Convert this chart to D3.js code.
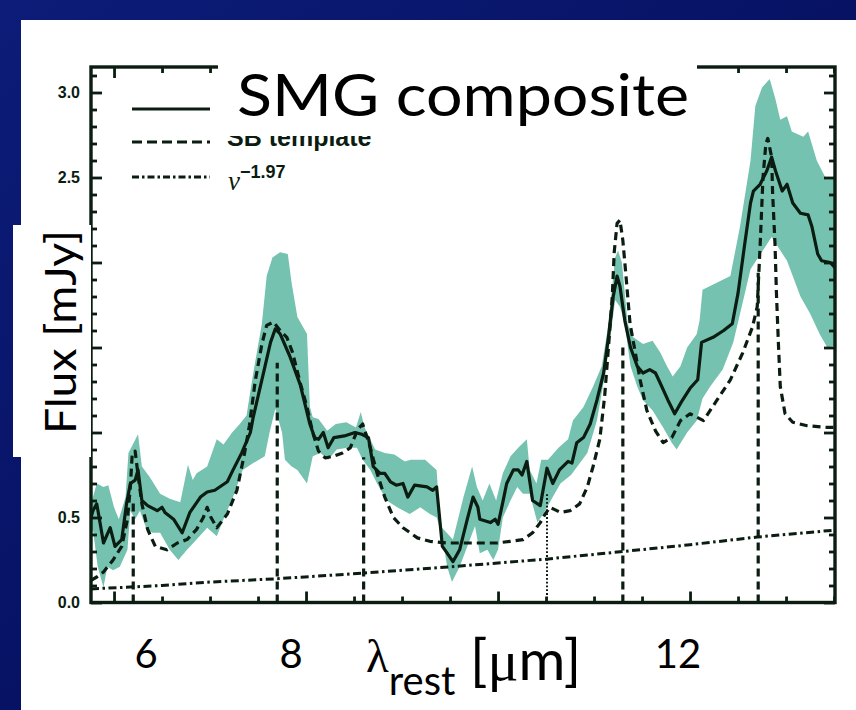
<!DOCTYPE html>
<html><head><meta charset="utf-8">
<script src="https://cdn.jsdelivr.net/npm/d3@7/dist/d3.min.js"></script>
<style>html,body{margin:0;padding:0;background:#020a58;overflow:hidden}</style>
</head><body><svg id="c" width="856" height="710"></svg>
<script>
// ---------------- data ----------------
const xDomain = [5.76, 13.51];
const yDomain = [0, 3.15];
const xMajorTicks = [6, 8, 10, 12];
const yMajorTicks = [0, 0.5, 1.0, 1.5, 2.0, 2.5, 3.0];
const xTickLabels = ["6", "8", "12"];
const legendLabels = ["SB template", "ν", "−1.97"];
const titleText = "SMG composite";
const yAxisTitle = "Flux [mJy]";

// composite (solid), [lambda_rest (um), flux (mJy)]
const composite = [
[5.76,0.50],[5.78,0.54],[5.82,0.58],[5.86,0.45],[5.89,0.35],[5.96,0.44],[6.01,0.33],[6.08,0.37],[6.13,0.58],[6.17,0.70],[6.22,0.72],[6.25,0.78],[6.29,0.60],[6.35,0.57],[6.45,0.54],[6.50,0.56],[6.53,0.53],[6.62,0.49],[6.71,0.41],[6.79,0.53],[6.90,0.62],[6.97,0.65],[7.05,0.66],[7.18,0.71],[7.24,0.78],[7.33,0.88],[7.42,1.00],[7.45,1.09],[7.54,1.31],[7.63,1.53],[7.68,1.61],[7.73,1.58],[7.83,1.45],[7.94,1.28],[8.04,1.05],[8.09,0.97],[8.13,0.96],[8.18,1.00],[8.23,0.91],[8.29,0.97],[8.40,0.98],[8.51,1.00],[8.58,0.99],[8.65,0.97],[8.70,0.80],[8.77,0.76],[8.82,0.76],[8.88,0.71],[8.94,0.69],[9.01,0.70],[9.06,0.62],[9.13,0.69],[9.26,0.68],[9.32,0.66],[9.36,0.68],[9.42,0.33],[9.47,0.29],[9.53,0.24],[9.60,0.31],[9.68,0.49],[9.74,0.62],[9.79,0.56],[9.81,0.49],[9.92,0.47],[9.97,0.49],[10.00,0.46],[10.05,0.59],[10.09,0.70],[10.16,0.78],[10.21,0.78],[10.25,0.75],[10.30,0.83],[10.36,0.60],[10.44,0.57],[10.51,0.79],[10.57,0.70],[10.64,0.78],[10.73,0.83],[10.77,0.82],[10.82,0.94],[10.89,0.97],[10.96,1.05],[11.03,1.19],[11.10,1.35],[11.15,1.56],[11.20,1.80],[11.24,1.92],[11.27,1.86],[11.32,1.66],[11.38,1.50],[11.45,1.39],[11.51,1.35],[11.58,1.37],[11.64,1.35],[11.69,1.29],[11.77,1.19],[11.84,1.11],[11.91,1.18],[12.00,1.26],[12.08,1.31],[12.12,1.53],[12.24,1.56],[12.35,1.60],[12.44,1.64],[12.50,1.82],[12.57,2.11],[12.63,2.35],[12.66,2.42],[12.73,2.46],[12.80,2.54],[12.85,2.62],[12.89,2.54],[12.96,2.42],[13.01,2.46],[13.07,2.35],[13.15,2.29],[13.23,2.28],[13.27,2.21],[13.33,2.05],[13.37,2.01],[13.46,2.00],[13.51,1.97]
];

// uncertainty band, upper and lower edges
const bandUpper = [
[5.76,0.58],[5.82,0.70],[5.89,0.68],[5.94,0.69],[6.00,0.56],[6.05,0.49],[6.12,0.62],[6.15,0.88],[6.25,0.99],[6.29,0.80],[6.37,0.74],[6.48,0.64],[6.58,0.61],[6.69,0.59],[6.77,0.81],[6.82,0.72],[6.86,0.76],[6.97,0.80],[7.07,0.96],[7.14,0.93],[7.23,1.00],[7.31,1.05],[7.38,1.10],[7.45,1.35],[7.54,1.64],[7.59,1.92],[7.65,2.03],[7.73,2.06],[7.81,2.05],[7.85,1.88],[7.91,1.68],[8.01,1.58],[8.04,1.15],[8.07,1.09],[8.13,1.08],[8.22,1.01],[8.31,1.05],[8.42,1.06],[8.52,1.03],[8.57,1.12],[8.61,1.03],[8.72,0.90],[8.82,0.88],[8.92,0.87],[9.03,0.83],[9.09,0.84],[9.24,0.84],[9.36,0.78],[9.40,0.45],[9.53,0.37],[9.64,0.62],[9.73,0.80],[9.78,0.68],[9.84,0.60],[9.91,0.70],[9.98,0.60],[10.05,0.76],[10.13,0.86],[10.21,0.91],[10.30,0.96],[10.33,0.78],[10.40,0.70],[10.45,0.84],[10.52,0.84],[10.63,0.91],[10.73,0.96],[10.78,1.07],[10.89,1.15],[10.99,1.27],[11.08,1.39],[11.14,1.60],[11.19,1.86],[11.22,2.03],[11.25,2.07],[11.29,2.00],[11.35,1.64],[11.41,1.56],[11.51,1.52],[11.61,1.54],[11.69,1.47],[11.76,1.39],[11.82,1.33],[11.90,1.39],[11.97,1.50],[12.07,1.58],[12.10,1.66],[12.13,1.84],[12.42,1.92],[12.52,2.21],[12.63,2.60],[12.68,2.92],[12.75,3.03],[12.83,3.08],[12.89,2.96],[12.94,2.84],[13.01,2.86],[13.06,2.77],[13.18,2.74],[13.23,2.77],[13.32,2.60],[13.41,2.50],[13.51,2.49]
];
const bandLower = [
[5.76,0.40],[5.78,0.43],[5.83,0.21],[5.89,0.09],[5.93,0.21],[5.99,0.19],[6.06,0.21],[6.14,0.31],[6.17,0.54],[6.22,0.49],[6.27,0.54],[6.34,0.43],[6.40,0.41],[6.48,0.41],[6.58,0.31],[6.67,0.25],[6.76,0.31],[6.86,0.37],[6.97,0.44],[7.07,0.39],[7.14,0.49],[7.24,0.62],[7.34,0.78],[7.45,0.82],[7.57,0.86],[7.62,1.00],[7.68,1.14],[7.75,1.00],[7.78,0.84],[7.85,0.80],[7.91,0.78],[8.01,0.70],[8.07,0.86],[8.15,0.88],[8.23,0.84],[8.32,0.90],[8.43,0.91],[8.53,0.91],[8.59,0.84],[8.67,0.78],[8.74,0.70],[8.84,0.60],[8.95,0.56],[9.08,0.52],[9.19,0.56],[9.29,0.52],[9.36,0.50],[9.42,0.39],[9.47,0.21],[9.52,0.12],[9.60,0.21],[9.68,0.33],[9.76,0.45],[9.81,0.29],[9.89,0.31],[9.95,0.25],[10.00,0.31],[10.05,0.50],[10.13,0.60],[10.20,0.68],[10.26,0.64],[10.33,0.64],[10.41,0.47],[10.47,0.52],[10.57,0.62],[10.65,0.70],[10.76,0.75],[10.93,0.88],[11.03,1.07],[11.11,1.33],[11.17,1.56],[11.22,1.78],[11.27,1.74],[11.32,1.64],[11.38,1.39],[11.45,1.27],[11.51,1.19],[11.61,1.13],[11.72,1.03],[11.81,0.94],[11.86,0.90],[11.97,1.00],[12.07,1.07],[12.13,1.20],[12.21,1.27],[12.34,1.37],[12.45,1.53],[12.63,1.96],[12.85,2.15],[13.01,2.01],[13.15,1.80],[13.25,1.70],[13.35,1.58],[13.43,1.50],[13.51,1.51]
];

// starburst template (dashed)
const template = [
[5.76,0.13],[5.82,0.15],[5.89,0.18],[5.99,0.25],[6.08,0.33],[6.14,0.49],[6.17,0.68],[6.19,0.88],[6.22,0.89],[6.25,0.75],[6.29,0.58],[6.35,0.43],[6.43,0.33],[6.55,0.31],[6.66,0.35],[6.76,0.37],[6.86,0.43],[6.93,0.50],[6.97,0.56],[7.01,0.50],[7.07,0.44],[7.18,0.52],[7.28,0.66],[7.36,0.88],[7.41,1.04],[7.47,1.30],[7.54,1.52],[7.59,1.63],[7.66,1.65],[7.73,1.60],[7.80,1.56],[7.86,1.47],[7.94,1.29],[8.01,1.15],[8.07,1.00],[8.13,0.89],[8.20,0.85],[8.28,0.86],[8.38,0.88],[8.46,0.91],[8.54,1.02],[8.59,1.05],[8.67,0.91],[8.74,0.76],[8.82,0.62],[8.91,0.50],[9.01,0.44],[9.16,0.38],[9.29,0.36],[9.47,0.35],[9.64,0.35],[9.81,0.35],[9.99,0.35],[10.13,0.36],[10.26,0.37],[10.36,0.41],[10.44,0.47],[10.49,0.52],[10.54,0.56],[10.65,0.53],[10.75,0.54],[10.85,0.58],[10.93,0.68],[10.99,0.80],[11.06,0.96],[11.11,1.21],[11.15,1.50],[11.19,1.80],[11.21,2.06],[11.24,2.23],[11.27,2.25],[11.30,2.13],[11.33,1.94],[11.375,1.64],[11.43,1.47],[11.48,1.31],[11.55,1.13],[11.64,1.01],[11.72,0.94],[11.81,0.97],[11.90,1.07],[12.00,1.11],[12.14,1.07],[12.28,1.19],[12.42,1.31],[12.55,1.47],[12.65,1.62],[12.70,1.74],[12.73,2.10],[12.76,2.50],[12.79,2.70],[12.81,2.73],[12.85,2.62],[12.86,2.41],[12.885,2.11],[12.90,1.82],[12.92,1.53],[12.94,1.27],[12.99,1.11],[13.07,1.06],[13.22,1.04],[13.43,1.03],[13.51,1.03]
];

// nu^-1.97 continuum (dash-dot)
const powerLaw = [
[5.76,0.08],[6.5,0.10],[7.0,0.12],[7.7,0.14],[8.6,0.173],[9.5,0.21],[10.5,0.255],[11.3,0.30],[12.0,0.34],[12.7,0.385],[13.51,0.426]
];

// feature markers (vertical lines): wavelength, top value, kind
const featureLambda = [6.2, 7.7, 8.6, 10.51, 11.3, 12.71];
const featureTop    = [0.60, 1.41, 0.855, 0.645, 1.53, 1.94];
const featureKind   = ["PAH", "PAH", "PAH", "[SIV]", "PAH", "PAH"];

// ---------------- drawing ----------------
const INK = "#0b1c11";
const FILL = "#75c2b0";
const svg = d3.select("#c");
const defs = svg.append("defs");

// slide background + white panel
const grad = defs.append("linearGradient").attr("id", "bg").attr("x1", 0).attr("y1", 0).attr("x2", 1).attr("y2", 1);
grad.append("stop").attr("offset", "0%").attr("stop-color", "#0c1c78");
grad.append("stop").attr("offset", "100%").attr("stop-color", "#010850");
svg.append("rect").attr("width", 856).attr("height", 710).attr("fill", "url(#bg)");
svg.append("rect").attr("x", 21).attr("y", 20).attr("width", 835).attr("height", 690).attr("fill", "#ffffff");

const L = 91, R = 835, T = 67, B = 602.5;
const x = d3.scaleLinear().domain(xDomain).range([L, R]);
const y = d3.scaleLinear().domain(yDomain).range([B, T]);

defs.append("clipPath").attr("id", "plotclip")
  .append("rect").attr("x", L).attr("y", T).attr("width", R - L).attr("height", B - T);

const g = svg.append("g").attr("clip-path", "url(#plotclip)");
const line = d3.line().x(d => x(d[0])).y(d => y(d[1]));

// band
g.append("path")
  .attr("d", line(bandUpper.concat(bandLower.slice().reverse())) + "Z")
  .attr("fill", FILL).attr("stroke", "none");

// power law
g.append("path").attr("d", line(powerLaw)).attr("fill", "none")
  .attr("stroke", INK).attr("stroke-width", 3).attr("stroke-dasharray", "8,3.5,2.5,3.5");

// feature vertical lines
featureLambda.forEach((lam, i) => {
  const dotted = featureKind[i] !== "PAH";
  g.append("line")
    .attr("x1", x(lam)).attr("x2", x(lam))
    .attr("y1", y(0)).attr("y2", y(featureTop[i]))
    .attr("stroke", INK)
    .attr("stroke-width", dotted ? 2 : 3.2)
    .attr("stroke-dasharray", dotted ? "1.8,2" : "8,5");
});

// template
g.append("path").attr("d", line(template)).attr("fill", "none")
  .attr("stroke", INK).attr("stroke-width", 3.2).attr("stroke-dasharray", "8,5")
  .attr("stroke-linejoin", "round");

// composite
g.append("path").attr("d", line(composite)).attr("fill", "none")
  .attr("stroke", INK).attr("stroke-width", 3.2).attr("stroke-linejoin", "round");

// axes (ticks point inward)
const yMinor = d3.range(0, 3.15, 0.1).filter(v => Math.abs(v * 2 - Math.round(v * 2)) > 1e-6);
const xMinor = d3.range(6, 13.6, 0.5).filter(v => !xMajorTicks.includes(v));
function styleAxis(sel) {
  sel.select(".domain").remove();
  sel.selectAll(".tick line").attr("stroke", INK).attr("stroke-width", 2.8);
}
svg.append("g").attr("transform", `translate(${L},0)`)
  .call(d3.axisLeft(y).tickValues(yMajorTicks).tickSize(-11).tickPadding(11).tickFormat(d3.format(".1f")))
  .call(styleAxis)
  .call(s => s.selectAll("text").attr("fill", INK)
      .style("font", "bold 16px 'Liberation Sans', Arial, sans-serif"));
svg.append("g").attr("transform", `translate(${L},0)`)
  .call(d3.axisLeft(y).tickValues(yMinor).tickSize(-6).tickFormat("")).call(styleAxis);
svg.append("g").attr("transform", `translate(${R},0)`)
  .call(d3.axisRight(y).tickValues(yMajorTicks).tickSize(-11).tickFormat("")).call(styleAxis);
svg.append("g").attr("transform", `translate(${R},0)`)
  .call(d3.axisRight(y).tickValues(yMinor).tickSize(-6).tickFormat("")).call(styleAxis);
svg.append("g").attr("transform", `translate(0,${B})`)
  .call(d3.axisBottom(x).tickValues(xMajorTicks).tickSize(-11).tickFormat("")).call(styleAxis);
svg.append("g").attr("transform", `translate(0,${B})`)
  .call(d3.axisBottom(x).tickValues(xMinor).tickSize(-6).tickFormat("")).call(styleAxis);
svg.append("g").attr("transform", `translate(0,${T})`)
  .call(d3.axisTop(x).tickValues(xMajorTicks).tickSize(-11).tickFormat("")).call(styleAxis);
svg.append("g").attr("transform", `translate(0,${T})`)
  .call(d3.axisTop(x).tickValues(xMinor).tickSize(-6).tickFormat("")).call(styleAxis);

// frame
svg.append("rect").attr("x", L).attr("y", T).attr("width", R - L).attr("height", B - T)
  .attr("fill", "none").attr("stroke", INK).attr("stroke-width", 3.4);

// legend (first entry's label lies under the slide title box)
const lgX1 = 132, lgX2 = 210;
const lg = svg.append("g");
lg.append("line").attr("x1", lgX1).attr("x2", lgX2).attr("y1", 109).attr("y2", 109)
  .attr("stroke", INK).attr("stroke-width", 3.2);
lg.append("line").attr("x1", lgX1).attr("x2", lgX2).attr("y1", 142).attr("y2", 142)
  .attr("stroke", INK).attr("stroke-width", 3.2).attr("stroke-dasharray", "10,5");
lg.append("line").attr("x1", lgX1).attr("x2", lgX2).attr("y1", 177).attr("y2", 177)
  .attr("stroke", INK).attr("stroke-width", 2.8).attr("stroke-dasharray", "7,3,2.5,3");
const lgFont = "bold 25px 'Liberation Sans', Arial, sans-serif";
lg.append("text").attr("x", 227).attr("y", 146).attr("fill", INK).style("font", lgFont).text(legendLabels[0]);
const nu = lg.append("text").attr("x", 228).attr("y", 190).attr("fill", INK);
nu.append("tspan").style("font", "italic 27px 'Liberation Serif', serif").text(legendLabels[1]);
nu.append("tspan").attr("dy", -12).style("font", "bold 18px 'Liberation Sans', Arial, sans-serif").text(legendLabels[2]);

// slide overlays: title box
svg.append("rect").attr("x", 218).attr("y", 30).attr("width", 479).attr("height", 106).attr("fill", "#ffffff");
svg.append("text").attr("x", 237).attr("y", 116)
  .attr("textLength", 452).attr("lengthAdjust", "spacingAndGlyphs")
  .attr("fill", "#000").style("font", "59px Lato, 'Open Sans', sans-serif").text(titleText);

// y-axis title box
svg.append("rect").attr("x", 13).attr("y", 225).attr("width", 78).attr("height", 232).attr("fill", "#ffffff");
svg.append("text").attr("transform", "translate(76,332) rotate(-90)")
  .attr("text-anchor", "middle").attr("fill", "#000")
  .attr("textLength", 204).attr("lengthAdjust", "spacingAndGlyphs")
  .style("font", "43px Lato, 'Open Sans', sans-serif").text(yAxisTitle);

// x tick labels and x title (slide text)
const xLabelPos = [146, 291, 678];
xTickLabels.forEach((t, i) => {
  svg.append("text").attr("x", xLabelPos[i]).attr("y", 668).attr("text-anchor", "middle")
    .attr("fill", "#000").style("font", "40px Lato, 'Open Sans', sans-serif").text(t);
});
const xt = svg.append("text").attr("x", 366).attr("y", 672).attr("fill", "#000")
  .style("font", "40px Lato, 'Open Sans', sans-serif");
xt.append("tspan").style("font", "47px 'Liberation Serif', serif").text("λ");
xt.append("tspan").attr("dy", 23).text("rest");
xt.append("tspan").attr("dy", -15).style("font", "57px Lato, 'Open Sans', sans-serif").text(" [");
xt.append("tspan").style("font", "58px 'Liberation Serif', serif").text("μ");
xt.append("tspan").style("font", "57px Lato, 'Open Sans', sans-serif").text("m]");
</script></body></html>
